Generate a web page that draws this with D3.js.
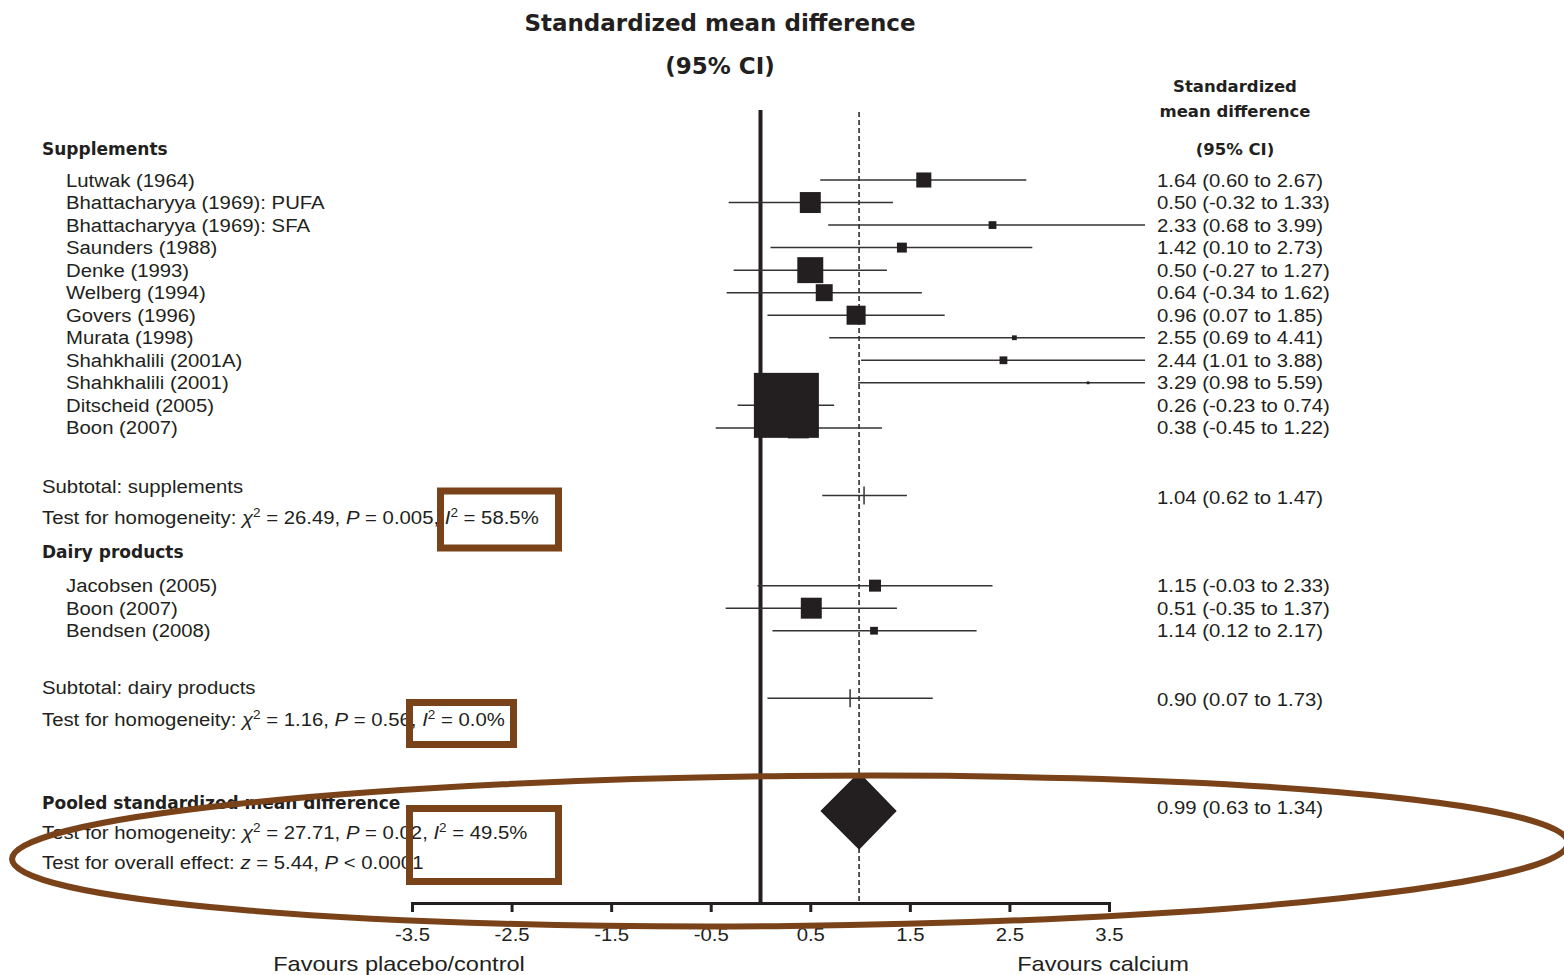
<!DOCTYPE html>
<html>
<head>
<meta charset="utf-8">
<script src="https://cdn.jsdelivr.net/npm/d3@7"></script>
<style>
  body { margin: 0; background: #fff; }
  svg { display: block; }
</style>
</head>
<body>
<svg class="forest" width="1564" height="975"></svg>
<script>
// studies in the supplements group
const suppNames = ['Lutwak (1964)', 'Bhattacharyya (1969): PUFA', 'Bhattacharyya (1969): SFA', 'Saunders (1988)',
    'Denke (1993)', 'Welberg (1994)', 'Govers (1996)', 'Murata (1998)', 'Shahkhalili (2001A)',
    'Shahkhalili (2001)', 'Ditscheid (2005)', 'Boon (2007)'];
const suppEst = [1.64, 0.50, 2.33, 1.42, 0.50, 0.64, 0.96, 2.55, 2.44, 3.29, 0.26, 0.38];
const suppLo = [0.60, -0.32, 0.68, 0.10, -0.27, -0.34, 0.07, 0.69, 1.01, 0.98, -0.23, -0.45];
const suppHi = [2.67, 1.33, 3.99, 2.73, 1.27, 1.62, 1.85, 4.41, 3.88, 5.59, 0.74, 1.22];
const suppWeight = [3.0, 5.8, 0.8, 1.3, 8.9, 3.8, 4.8, 0.3, 0.8, 0.1, 55.8, 5.8];

// studies in the dairy group
const dairyNames = ['Jacobsen (2005)', 'Boon (2007)', 'Bendsen (2008)'];
const dairyEst = [1.15, 0.51, 1.14];
const dairyLo = [-0.03, -0.35, 0.12];
const dairyHi = [2.33, 1.37, 2.17];
const dairyWeight = [1.9, 5.8, 0.8];

// subtotals + pooled
const subEst = [1.04, 0.90];
const subLo = [0.62, 0.07];
const subHi = [1.47, 1.73];
const pooledEst = 0.99, pooledLo = 0.63, pooledHi = 1.34;

const xTicks = [-3.5, -2.5, -1.5, -0.5, 0.5, 1.5, 2.5, 3.5];

const INK = '#231f20';
const BROWN = '#7a4219';
const SANS = '"Liberation Sans", Arial, sans-serif';
const BOLD = '"DejaVu Sans", Verdana, sans-serif';
const SX = 1.13; // the scanned text is a bit wide

let svg = d3.select('.forest');

let x = d3.scaleLinear().domain([-3.5, 3.5]).range([412, 1109]);
let rowY = d3.scaleLinear().domain([0, 28]).range([180, 811]);
let box = d3.scaleSqrt().domain([0, 55.8]).range([0, 65]);
const AXIS_Y = 903;
const fmt = v => v.toFixed(2);

// plain text helper, stretched horizontally
function txt(px, py, str, size, anchor, sx) {
    return svg.append('text')
        .attr('transform', `translate(${px},${py}) scale(${sx || SX},1)`)
        .attr('font-family', SANS)
        .attr('font-size', size || 18)
        .attr('fill', INK)
        .attr('text-anchor', anchor || 'start')
        .text(str);
}
function boldTxt(px, py, str, size, anchor) {
    return svg.append('text')
        .attr('x', px).attr('y', py)
        .attr('font-family', BOLD)
        .attr('font-weight', 'bold')
        .attr('font-size', size || 17)
        .attr('fill', INK)
        .attr('text-anchor', anchor || 'start')
        .text(str);
}
// text with italic / superscript pieces
function richTxt(px, py, parts) {
    let t = svg.append('text')
        .attr('transform', `translate(${px},${py}) scale(${SX},1)`)
        .attr('font-family', SANS)
        .attr('font-size', 18)
        .attr('fill', INK);
    let up = false;
    parts.forEach(p => {
        let s = t.append('tspan').text(p.t);
        if (p.it) s.attr('font-style', 'italic');
        if (p.sup) { s.attr('font-size', 12).attr('dy', -7); up = true; }
        else if (up) { s.attr('dy', 7); up = false; }
    });
    return t;
}

// titles
boldTxt(720, 31, 'Standardized mean difference', 23, 'middle');
boldTxt(720, 74, '(95% CI)', 23, 'middle');
boldTxt(1235, 92, 'Standardized', 16.5, 'middle');
boldTxt(1235, 117, 'mean difference', 16.5, 'middle');
boldTxt(1235, 155, '(95% CI)', 16.5, 'middle');

// reference lines
svg.append('line')
    .attr('x1', x(0)).attr('x2', x(0))
    .attr('y1', 110).attr('y2', AXIS_Y)
    .attr('stroke', INK).attr('stroke-width', 4);
svg.append('line')
    .attr('x1', x(pooledEst)).attr('x2', x(pooledEst))
    .attr('y1', 112).attr('y2', AXIS_Y)
    .attr('stroke', INK).attr('stroke-width', 1.5)
    .attr('stroke-dasharray', '5,3');

// x axis
let axis = svg.append('g')
    .attr('id', 'x-axis')
    .attr('transform', `translate(0,${AXIS_Y})`)
    .call(d3.axisBottom(x)
        .tickValues(xTicks)
        .tickSize(9)
        .tickPadding(16)
        .tickFormat(d => d.toFixed(1)));
axis.select('.domain').attr('stroke', INK).attr('stroke-width', 3);
axis.selectAll('.tick line').attr('stroke', INK).attr('stroke-width', 3);
axis.selectAll('.tick text')
    .attr('font-family', SANS).attr('font-size', 18).attr('fill', INK)
    .attr('transform', `scale(${SX},1)`);

txt(399, 971, 'Favours placebo/control', 20, 'middle', 1.18);
txt(1103, 971, 'Favours calcium', 20, 'middle', 1.18);

// study rows
let studies = [];
suppNames.forEach((n, i) => studies.push({name: n, est: suppEst[i], lo: suppLo[i], hi: suppHi[i], w: suppWeight[i], row: i}));
dairyNames.forEach((n, i) => studies.push({name: n, est: dairyEst[i], lo: dairyLo[i], hi: dairyHi[i], w: dairyWeight[i], row: 18 + i}));

svg.append('clipPath').attr('id', 'plotClip')
    .append('rect').attr('x', 0).attr('y', 0).attr('width', 1145).attr('height', 975);

let ci = svg.append('g').attr('clip-path', 'url(#plotClip)');
ci.selectAll('line.ci')
    .data(studies)
    .join('line')
    .attr('class', 'ci')
    .attr('x1', d => x(d.lo)).attr('x2', d => x(d.hi))
    .attr('y1', d => rowY(d.row)).attr('y2', d => rowY(d.row))
    .attr('stroke', '#333').attr('stroke-width', 1.5);

svg.append('g').selectAll('rect')
    .data(studies)
    .join('rect')
    .attr('x', d => x(d.est) - box(d.w) / 2)
    .attr('y', d => rowY(d.row) - box(d.w) / 2)
    .attr('width', d => Math.max(box(d.w), 2.5))
    .attr('height', d => Math.max(box(d.w), 2.5))
    .attr('fill', INK);

// subtotals
let subs = subEst.map((e, i) => ({est: e, lo: subLo[i], hi: subHi[i], row: [14, 23][i]}));
let sg = svg.append('g');
sg.selectAll('line.sub')
    .data(subs).join('line')
    .attr('x1', d => x(d.lo)).attr('x2', d => x(d.hi))
    .attr('y1', d => rowY(d.row)).attr('y2', d => rowY(d.row))
    .attr('stroke', '#333').attr('stroke-width', 1.5);
sg.selectAll('line.tick')
    .data(subs).join('line')
    .attr('x1', d => x(d.est)).attr('x2', d => x(d.est))
    .attr('y1', d => rowY(d.row) - 9).attr('y2', d => rowY(d.row) + 9)
    .attr('stroke', '#333').attr('stroke-width', 1.5);

// pooled diamond
let py = rowY(28);
svg.append('polygon')
    .attr('points', [[x(pooledLo), py], [x(pooledEst), py - 36], [x(pooledHi), py], [x(pooledEst), py + 36]].join(' '))
    .attr('fill', INK).attr('stroke', INK).attr('stroke-width', 4);

// left labels
boldTxt(42, rowY(-1.37) + 6, 'Supplements');
studies.forEach(d => txt(66, rowY(d.row) + 6.5, d.name));
txt(42, rowY(13.62) + 6.5, 'Subtotal: supplements');
richTxt(42, rowY(14.97) + 6.5, [{t: 'Test for homogeneity: '}, {t: 'χ', it: 1}, {t: '2', sup: 1},
    {t: ' = 26.49, '}, {t: 'P', it: 1}, {t: ' = 0.005, '}, {t: 'I', it: 1}, {t: '2', sup: 1}, {t: ' = 58.5%'}]);
boldTxt(42, rowY(16.5) + 6, 'Dairy products');
txt(42, rowY(22.53) + 6.5, 'Subtotal: dairy products');
richTxt(42, rowY(23.95) + 6.5, [{t: 'Test for homogeneity: '}, {t: 'χ', it: 1}, {t: '2', sup: 1},
    {t: ' = 1.16, '}, {t: 'P', it: 1}, {t: ' = 0.56, '}, {t: 'I', it: 1}, {t: '2', sup: 1}, {t: ' = 0.0%'}]);
boldTxt(42, rowY(27.63) + 6, 'Pooled standardized mean difference');
richTxt(42, rowY(28.96) + 6.5, [{t: 'Test for homogeneity: '}, {t: 'χ', it: 1}, {t: '2', sup: 1},
    {t: ' = 27.71, '}, {t: 'P', it: 1}, {t: ' = 0.02, '}, {t: 'I', it: 1}, {t: '2', sup: 1}, {t: ' = 49.5%'}]);
richTxt(42, rowY(30.29) + 6.5, [{t: 'Test for overall effect: '}, {t: 'z', it: 1},
    {t: ' = 5.44, '}, {t: 'P', it: 1}, {t: ' < 0.0001'}]);

// right column values
studies.forEach(d => txt(1157, rowY(d.row) + 6.5, `${fmt(d.est)} (${fmt(d.lo)} to ${fmt(d.hi)})`));
subs.forEach(d => txt(1157, rowY(d.row) + 8, `${fmt(d.est)} (${fmt(d.lo)} to ${fmt(d.hi)})`));
txt(1157, rowY(27.85) + 6.5, `${fmt(pooledEst)} (${fmt(pooledLo)} to ${fmt(pooledHi)})`);

// brown highlight marks drawn over the figure
let ann = svg.append('g').attr('fill', 'none').attr('stroke', BROWN);
ann.append('rect').attr('x', 440.5).attr('y', 491).attr('width', 118).attr('height', 57).attr('stroke-width', 7);
ann.append('rect').attr('x', 409.5).attr('y', 702.5).attr('width', 104).attr('height', 42).attr('stroke-width', 7);
ann.append('rect').attr('x', 409.5).attr('y', 808.5).attr('width', 149).attr('height', 73).attr('stroke-width', 7);
ann.append('ellipse')
    .attr('cx', 790).attr('cy', 851).attr('rx', 778).attr('ry', 75)
    .attr('transform', 'rotate(-0.6 790 851)')
    .attr('stroke-width', 6);
</script>
</body>
</html>
